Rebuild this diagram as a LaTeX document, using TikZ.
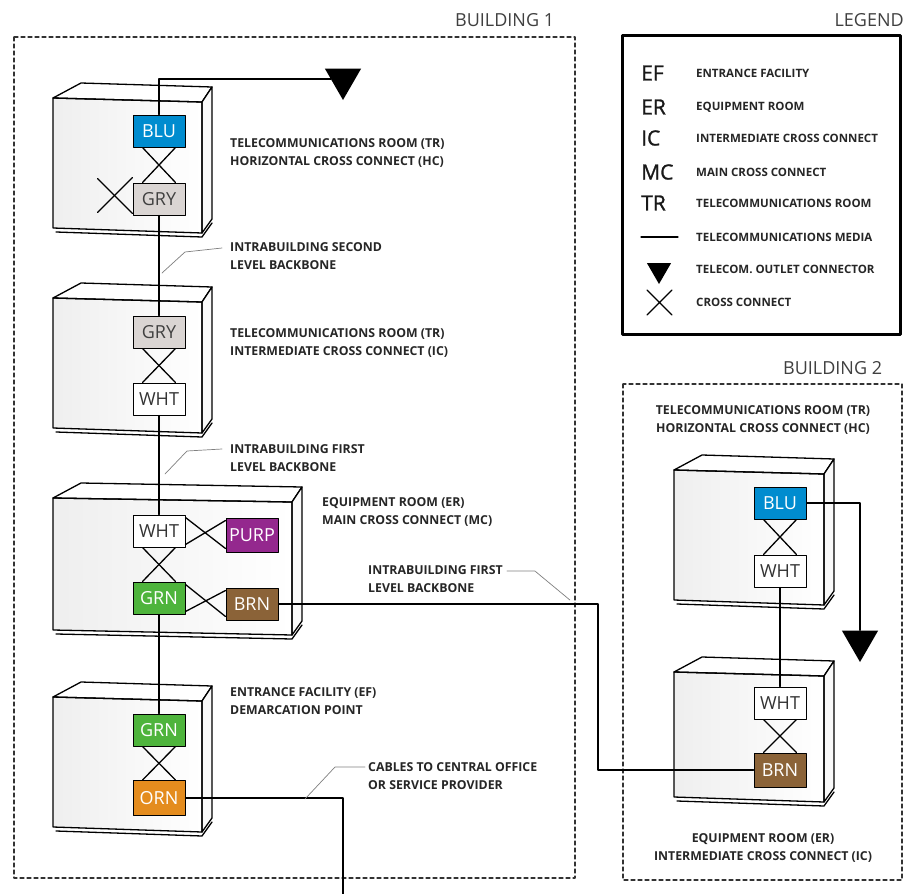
\documentclass[tikz,border=0pt]{standalone}
\usepackage{fontspec}
\setmainfont{Open Sans}
\usetikzlibrary{shapes.geometric}
\definecolor{cblu}{RGB}{0,140,207}
\definecolor{cgry}{RGB}{218,213,211}
\definecolor{cpurp}{RGB}{148,40,142}
\definecolor{cgrn}{RGB}{78,180,60}
\definecolor{cbrn}{RGB}{139,99,56}
\definecolor{corn}{RGB}{228,140,30}
\begin{document}
\begin{tikzpicture}[x=1pt,y=-1pt,line join=round,line cap=round]
	\tikzset{
		patch/.style={draw,line width=1pt,minimum width=52pt,minimum height=32pt,inner sep=0pt,font=\fontsize{18}{18}\selectfont},
		cable/.style={line width=1.2pt},
		xc/.style={line width=1.3pt},
		leader/.style={gray,line width=0.7pt},
		caption/.style={align=left,inner sep=0pt,text=black!85,font=\bfseries\fontsize{12.3}{18}\selectfont},
		legtxt/.style={anchor=west,inner sep=0pt,text=black!85,font=\bfseries\fontsize{11.5}{12}\selectfont},
		outlet/.style={regular polygon,regular polygon sides=3,shape border rotate=180,fill=black,minimum size=42pt,inner sep=0pt},
		building/.style={dash pattern=on 4pt off 3pt,line width=1.1pt,black!80},
		title/.style={inner sep=0pt,text=black!75,font=\fontsize{18}{18}\selectfont}
	}
	% cabinet: front top-left x0,y0 and front bottom-right x1,y1
	\def\cabinet#1#2#3#4{
		\shade[left color=gray!13,right color=white] (#1,#2) -- (#3,#2+4) -- (#3,#4+5) -- (#1,#4) -- cycle;
		\draw[line width=1.3pt,fill=white] (#1,#2) -- (#1+28,#2-15) -- (#3+10,#2-11) -- (#3,#2+4) -- cycle;
		\draw[line width=1.3pt,fill=gray!5] (#3,#2+4) -- (#3+10,#2-11) -- (#3+10,#4-9) -- (#3,#4+5) -- cycle;
		\draw[line width=1.3pt] (#1,#2) -- (#3,#2+4) -- (#3,#4+5) -- (#1,#4) -- cycle;
		\draw[line width=1.3pt] (#1+3,#4+4) -- (#3,#4+9) -- (#3+10,#4-5);
	}
	% crosses between two patch fields
	\def\vx#1#2{
		\draw[xc] ([xshift=10pt]#1.south west) -- ([xshift=-10pt]#2.north east);
		\draw[xc] ([xshift=-10pt]#1.south east) -- ([xshift=10pt]#2.north west);
	}
	\def\hx#1#2{
		\draw[xc] ([yshift=-3pt]#1.north east) -- ([yshift=4pt]#2.south west);
		\draw[xc] ([yshift=3pt]#1.south east) -- ([yshift=-3pt]#2.north west);
	}
	
	\useasboundingbox (0,0) rectangle (905,894);
	\fill[white] (0,0) rectangle (905,894);
	
	% --- Buildings and legend frame ---
	\draw[building] (14,37) rectangle (575,878);
	\draw[building] (623,384) rectangle (902,880);
	\draw[line width=3pt] (622,35) rectangle (900,334);
	\node[title,anchor=west] (b1) at (455,20) {BUILDING 1};
	\node[title,anchor=east] (leg) at (904,20) {LEGEND};
	\node[title,anchor=west] (b2) at (783,368) {BUILDING 2};
	
	% --- Cabinets ---
	\cabinet{53}{98}{202}{228}
	\cabinet{53}{298}{202}{428}
	\cabinet{53}{498}{292}{630}
	\cabinet{53}{697}{202}{827}
	\cabinet{674}{470}{824}{600}
	\cabinet{674}{672}{824}{797}
	
	% --- Patch fields ---
	\node[patch,fill=cblu,text=white] (blu1) at (159,131) {BLU};
	\node[patch,fill=cgry,text=black!75] (gry1) at (159,199) {GRY};
	\node[patch,fill=cgry,text=black!75] (gry2) at (159,332) {GRY};
	\node[patch,fill=white,text=black!80] (wht2) at (159,399) {WHT};
	\node[patch,fill=white,text=black!80] (wht3) at (159,531) {WHT};
	\node[patch,fill=cpurp,text=white,minimum height=34pt] (purp3) at (252,535) {PURP};
	\node[patch,fill=cgrn,text=white] (grn3) at (159,598) {GRN};
	\node[patch,fill=cbrn,text=white] (brn3) at (252,604) {BRN};
	\node[patch,fill=cgrn,text=white] (grn4) at (159,730) {GRN};
	\node[patch,fill=corn,text=white,minimum height=35pt] (orn4) at (159,798) {ORN};
	\node[patch,fill=cblu,text=white] (blu5) at (780,503) {BLU};
	\node[patch,fill=white,text=black!80] (wht5) at (780,571) {WHT};
	\node[patch,fill=white,text=black!80] (wht6) at (780,703) {WHT};
	\node[patch,fill=cbrn,text=white,minimum height=34pt] (brn6) at (780,770) {BRN};
	\node[outlet] (out1) at (343,79) {};
	\node[outlet] (out2) at (860,641) {};
	\coordinate (co) at (343,894);
	\coordinate (bend) at (598,700);
	
	% --- Cross connects ---
	\vx{blu1}{gry1}
	\draw[xc] ([yshift=5pt]gry1.north west) -- ++(-35,35);
	\draw[xc] ([yshift=2pt]gry1.south west) -- ++(-35,-35);
	\vx{gry2}{wht2}
	\vx{wht3}{grn3}
	\hx{wht3}{purp3}
	\hx{grn3}{brn3}
	\vx{grn4}{orn4}
	\vx{blu5}{wht5}
	\vx{wht6}{brn6}
	
	% --- Cables ---
	\draw[cable] (blu1.north) |- (out1);
	\draw[cable] (gry1.south) -- (gry2.north);
	\draw[cable] (wht2.south) -- (wht3.north);
	\draw[cable] (grn3.south) -- (grn4.north);
	\draw[cable] (orn4.east) -| (co);
	\draw[cable] (brn3.east) -| (bend) |- (brn6.west);
	\draw[cable] (blu5.east) -| (out2);
	\draw[cable] (wht5.south) -- (wht6.north);
	
	% --- Captions ---
	\node[caption,anchor=west] (hc1) at (230,153) {TELECOMMUNICATIONS ROOM (TR)\\HORIZONTAL CROSS CONNECT (HC)};
	\node[caption,anchor=west] (lead1) at (230,256) {INTRABUILDING SECOND\\LEVEL BACKBONE};
	\node[caption,anchor=west] (ic1) at (230,343) {TELECOMMUNICATIONS ROOM (TR)\\INTERMEDIATE CROSS CONNECT (IC)};
	\node[caption,anchor=west] (lead2) at (230,458) {INTRABUILDING FIRST\\LEVEL BACKBONE};
	\node[caption,anchor=west] (mc1) at (322,512) {EQUIPMENT ROOM (ER)\\MAIN CROSS CONNECT (MC)};
	\node[caption,anchor=west] (lead3) at (368,579) {INTRABUILDING FIRST\\LEVEL BACKBONE};
	\node[caption,anchor=west] (ef1) at (230,701) {ENTRANCE FACILITY (EF)\\DEMARCATION POINT};
	\node[caption,anchor=west] (lead4) at (368,776) {CABLES TO CENTRAL OFFICE\\OR SERVICE PROVIDER};
	\node[caption,align=center] (hc2) at (763,420) {TELECOMMUNICATIONS ROOM (TR)\\HORIZONTAL CROSS CONNECT (HC)};
	\node[caption,align=center] (ic2) at (763,848) {EQUIPMENT ROOM (ER)\\INTERMEDIATE CROSS CONNECT (IC)};
	
	\draw[leader] ([shift={(-8,-8)}]lead1.west) -- ++(-37,4) -- ++(-23,21);
	\draw[leader] ([shift={(-8,-9)}]lead2.west) -- ++(-35,2) -- ++(-22,23);
	\draw[leader] ([shift={(4,-8)}]lead3.east) -- ++(28,0) -- ++(35,29);
	\draw[leader] ([shift={(-3,-9)}]lead4.west) -- ++(-30,0) -- ++(-30,32);
	
	% --- Legend ---
	\foreach \ab/\txt/\yy in {EF/ENTRANCE FACILITY/73,ER/EQUIPMENT ROOM/107,IC/INTERMEDIATE CROSS CONNECT/138,MC/MAIN CROSS CONNECT/172,TR/TELECOMMUNICATIONS ROOM/203}{
		\node[anchor=west,inner sep=0pt,text=black!90,font=\addfontfeature{FakeBold=1.2}\fontsize{21}{21}\selectfont] (ab\ab) at (641,\yy) {\ab};
		\node[legtxt] (tx\ab) at (696,\yy) {\txt};
	}
	\draw[cable] (641,237) -- (678,237);
	\node[legtxt] (txmedia) at (696,237) {TELECOMMUNICATIONS MEDIA};
	\node[outlet,minimum size=28pt] (legout) at (659,270) {};
	\node[legtxt] (txout) at (696,269) {TELECOM. OUTLET CONNECTOR};
	\draw[line width=1.2pt] (647,290) -- (672,315) (647,315) -- (672,290);
	\node[legtxt] (txxc) at (696,302) {CROSS CONNECT};
\end{tikzpicture}
\end{document}
